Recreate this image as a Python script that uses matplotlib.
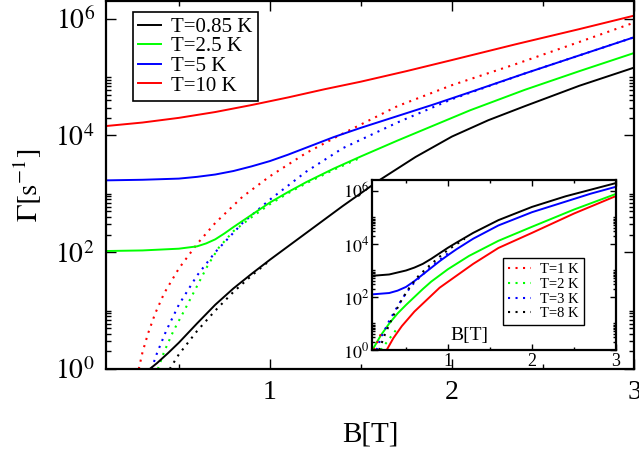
import matplotlib
matplotlib.use("Agg")
import matplotlib.pyplot as plt
import numpy as np
from matplotlib.ticker import FixedLocator, FuncFormatter, MultipleLocator, NullFormatter

plt.rcParams["font.family"] = ["Liberation Serif", "DejaVu Serif"]
plt.rcParams["mathtext.fontset"] = "stix"

# main panel: B [T] and log10(Gamma [1/s])
b_085 = [0.34, 0.38, 0.44, 0.5, 0.6, 0.7, 0.8, 0.9, 1.0, 1.1, 1.2, 1.4, 1.6, 1.8, 2.0, 2.2, 2.4, 2.7, 3.0]
g_085 = [0.0, 0.1, 0.27, 0.45, 0.78, 1.1, 1.38, 1.63, 1.87, 2.1, 2.33, 2.79, 3.23, 3.63, 3.98, 4.26, 4.5, 4.85, 5.16]
b_25 = [0.1, 0.3, 0.5, 0.6, 0.65, 0.7, 0.75, 0.8, 0.9, 1.0, 1.1, 1.2, 1.35, 1.5, 1.7, 1.9, 2.1, 2.4, 2.7, 3.0]
g_25 = [2.02, 2.03, 2.06, 2.1, 2.15, 2.22, 2.32, 2.43, 2.64, 2.85, 3.03, 3.2, 3.43, 3.64, 3.91, 4.17, 4.43, 4.78, 5.1, 5.41]
b_5 = [0.1, 0.3, 0.5, 0.6, 0.7, 0.8, 0.9, 1.0, 1.1, 1.2, 1.35, 1.5, 1.7, 1.9, 2.1, 2.4, 2.7, 3.0]
g_5 = [3.23, 3.24, 3.26, 3.29, 3.33, 3.39, 3.47, 3.56, 3.67, 3.79, 3.97, 4.13, 4.33, 4.53, 4.74, 5.06, 5.37, 5.68]
b_10 = [0.1, 0.3, 0.5, 0.7, 0.9, 1.1, 1.3, 1.5, 1.75, 2.0, 2.35, 2.7, 3.0]
g_10 = [4.16, 4.22, 4.3, 4.4, 4.52, 4.65, 4.79, 4.92, 5.1, 5.29, 5.56, 5.82, 6.05]

# dotted curves of the main panel
bd_red = [0.28, 0.3, 0.33, 0.37, 0.42, 0.5, 0.6, 0.7, 0.85, 1.0, 1.2, 1.4, 1.7, 2.0, 2.35, 2.7, 3.0]
gd_red = [0.0, 0.28, 0.6, 0.95, 1.3, 1.72, 2.14, 2.5, 2.95, 3.3, 3.7, 4.03, 4.5, 4.86, 5.22, 5.6, 5.93]
bd_green = [0.385, 0.42, 0.47, 0.53, 0.6, 0.66, 0.72, 0.8, 0.9, 1.0, 1.1, 1.2, 1.35, 1.5]
gd_green = [0.0, 0.3, 0.65, 1.0, 1.42, 1.78, 2.08, 2.36, 2.6, 2.82, 3.01, 3.18, 3.41, 3.62]
bd_blue = [0.35, 0.38, 0.43, 0.5, 0.6, 0.7, 0.85, 1.0, 1.2, 1.4, 1.7, 2.0, 2.4, 2.7, 3.0]
gd_blue = [0.0, 0.27, 0.65, 1.1, 1.6, 2.0, 2.5, 2.9, 3.38, 3.78, 4.22, 4.62, 5.06, 5.37, 5.68]
bd_black = [0.45, 0.5, 0.6, 0.7, 0.8, 0.9, 1.0]
gd_black = [0.0, 0.25, 0.65, 1.0, 1.32, 1.6, 1.86]

# inset
bi_black = [0.1, 0.3, 0.5, 0.6, 0.7, 0.8, 0.9, 1.0, 1.1, 1.3, 1.6, 2.0, 2.4, 2.7, 3.0]
gi_black = [2.8, 2.85, 3.0, 3.11, 3.25, 3.44, 3.65, 3.86, 4.05, 4.42, 4.9, 5.4, 5.8, 6.05, 6.3]
bi_blue = [0.1, 0.3, 0.4, 0.5, 0.6, 0.7, 0.8, 0.9, 1.0, 1.1, 1.3, 1.6, 2.0, 2.4, 2.7, 3.0]
gi_blue = [2.1, 2.15, 2.24, 2.38, 2.6, 2.85, 3.1, 3.35, 3.58, 3.8, 4.2, 4.7, 5.2, 5.6, 5.9, 6.16]
bi_green = [0.1, 0.2, 0.3, 0.4, 0.5, 0.6, 0.7, 0.8, 1.0, 1.25, 1.6, 2.0, 2.5, 3.0]
gi_green = [0.0, 0.55, 1.0, 1.38, 1.7, 2.0, 2.3, 2.58, 3.05, 3.55, 4.12, 4.65, 5.3, 5.89]
bi_red = [0.27, 0.35, 0.45, 0.6, 0.75, 0.9, 1.1, 1.3, 1.6, 2.0, 2.5, 3.0]
gi_red = [0.0, 0.45, 0.9, 1.45, 1.9, 2.35, 2.8, 3.25, 3.85, 4.42, 5.15, 5.81]

bid_red = [0.12, 0.16, 0.2]
gid_red = [0.0, 0.3, 0.6]
bid_green = [0.2, 0.26, 0.32, 0.38]
gid_green = [0.0, 0.25, 0.5, 0.75]
bid_blue = [0.15, 0.2, 0.3, 0.4, 0.5, 0.6, 0.8, 1.0]
gid_blue = [0.0, 0.45, 1.1, 1.65, 2.15, 2.55, 3.15, 3.65]
bid_black = [0.18, 0.25, 0.35, 0.45, 0.55, 0.65, 0.75, 0.9, 1.0, 1.2]
gid_black = [0.0, 0.6, 1.3, 1.9, 2.4, 2.8, 3.1, 3.52, 3.78, 4.2]

main_labels = ["T=0.85 K", "T=2.5 K", "T=5 K", "T=10 K"]
inset_labels = ["T=1 K", "T=2 K", "T=3 K", "T=8 K"]

RED, GREEN, BLUE, BLACK = "#ff0000", "#00ff00", "#0000ff", "#000000"
DOT = (0, (1, 2.6))


def log_ticks(ax, major_len, minor_len, width, labelsize, pad):
    ax.set_yscale("log")
    ax.yaxis.set_major_locator(FixedLocator([1e0, 1e2, 1e4, 1e6]))
    ax.yaxis.set_minor_locator(FixedLocator([k * 10.0**n for n in (0, 2, 4) for k in range(2, 11)]))
    ax.yaxis.set_major_formatter(FuncFormatter(lambda v, p: r"$10^{%d}$" % round(np.log10(v))))
    ax.yaxis.set_minor_formatter(NullFormatter())
    ax.xaxis.set_major_locator(FixedLocator([1, 2, 3]))
    ax.xaxis.set_minor_locator(MultipleLocator(0.5))
    ax.xaxis.set_major_formatter(FuncFormatter(lambda v, p: "%d" % v))
    ax.xaxis.set_minor_formatter(NullFormatter())
    ax.tick_params(which="both", direction="in", top=True, right=True, width=width)
    ax.tick_params(which="major", length=major_len, labelsize=labelsize, pad=pad)
    ax.tick_params(which="minor", length=minor_len)


fig = plt.figure(figsize=(6.39, 4.53), dpi=100)
ax = fig.add_axes([106 / 639, 1 - 369 / 453, 528 / 639, 368 / 453])

for b, g, c in [(bd_red, gd_red, RED), (bd_green, gd_green, GREEN),
                (bd_blue, gd_blue, BLUE), (bd_black, gd_black, BLACK)]:
    ax.plot(b, 10.0 ** np.array(g), color=c, lw=1.5, ls=DOT)
for b, g, c, lab in [(b_085, g_085, BLACK, main_labels[0]), (b_25, g_25, GREEN, main_labels[1]),
                     (b_5, g_5, BLUE, main_labels[2]), (b_10, g_10, RED, main_labels[3])]:
    ax.plot(b, 10.0 ** np.array(g), color=c, lw=1.4, label=lab)

ax.set_xlim(0.1, 3.0)
ax.set_ylim(1, 2e6)
log_ticks(ax, 7, 3.8, 1.0, 20, 8)
for s in ax.spines.values():
    s.set_linewidth(1.6)
ax.set_xlabel("B[T]", fontsize=21, labelpad=12)
ax.set_ylabel(r"$\mathrm{\Gamma[s^{-1}]}$", fontsize=21, labelpad=8)

leg = ax.legend(loc="upper left", bbox_to_anchor=(0.051, 0.97), fontsize=15, frameon=True,
                fancybox=False, edgecolor="black", framealpha=1, borderaxespad=0,
                borderpad=0.25, labelspacing=0.0, handlelength=1.1, handletextpad=0.5)
leg.get_frame().set_linewidth(1.2)

# inset
ai = fig.add_axes([372.4 / 639, 1 - 350 / 453, 243.6 / 639, 170 / 453])
for b, g, c in [(bi_red, gi_red, RED), (bi_green, gi_green, GREEN),
                (bi_blue, gi_blue, BLUE), (bi_black, gi_black, BLACK)]:
    ai.plot(b, 10.0 ** np.array(g), color=c, lw=1.4)
for b, g, c, lab in [(bid_red, gid_red, RED, inset_labels[0]), (bid_green, gid_green, GREEN, inset_labels[1]),
                     (bid_blue, gid_blue, BLUE, inset_labels[2]), (bid_black, gid_black, BLACK, inset_labels[3])]:
    ai.plot(b, 10.0 ** np.array(g), color=c, lw=1.5, ls=DOT, label=lab)

ai.set_xlim(0.1, 3.0)
ai.set_ylim(1, 2.6e6)
log_ticks(ai, 4.5, 2.5, 1.0, 13, 2)
for s in ai.spines.values():
    s.set_linewidth(1.6)
ai.text(0.40, 0.085, "B[T]", transform=ai.transAxes, fontsize=14, ha="center", va="center")

li = ai.legend(loc="upper left", bbox_to_anchor=(0.536, 0.541), fontsize=10.5, frameon=True,
               fancybox=False, edgecolor="black", framealpha=1, borderaxespad=0,
               borderpad=0.35, labelspacing=0.1, handlelength=1.6, handletextpad=0.6)
li.get_frame().set_linewidth(1.0)

fig.savefig("out.png", dpi=100)
